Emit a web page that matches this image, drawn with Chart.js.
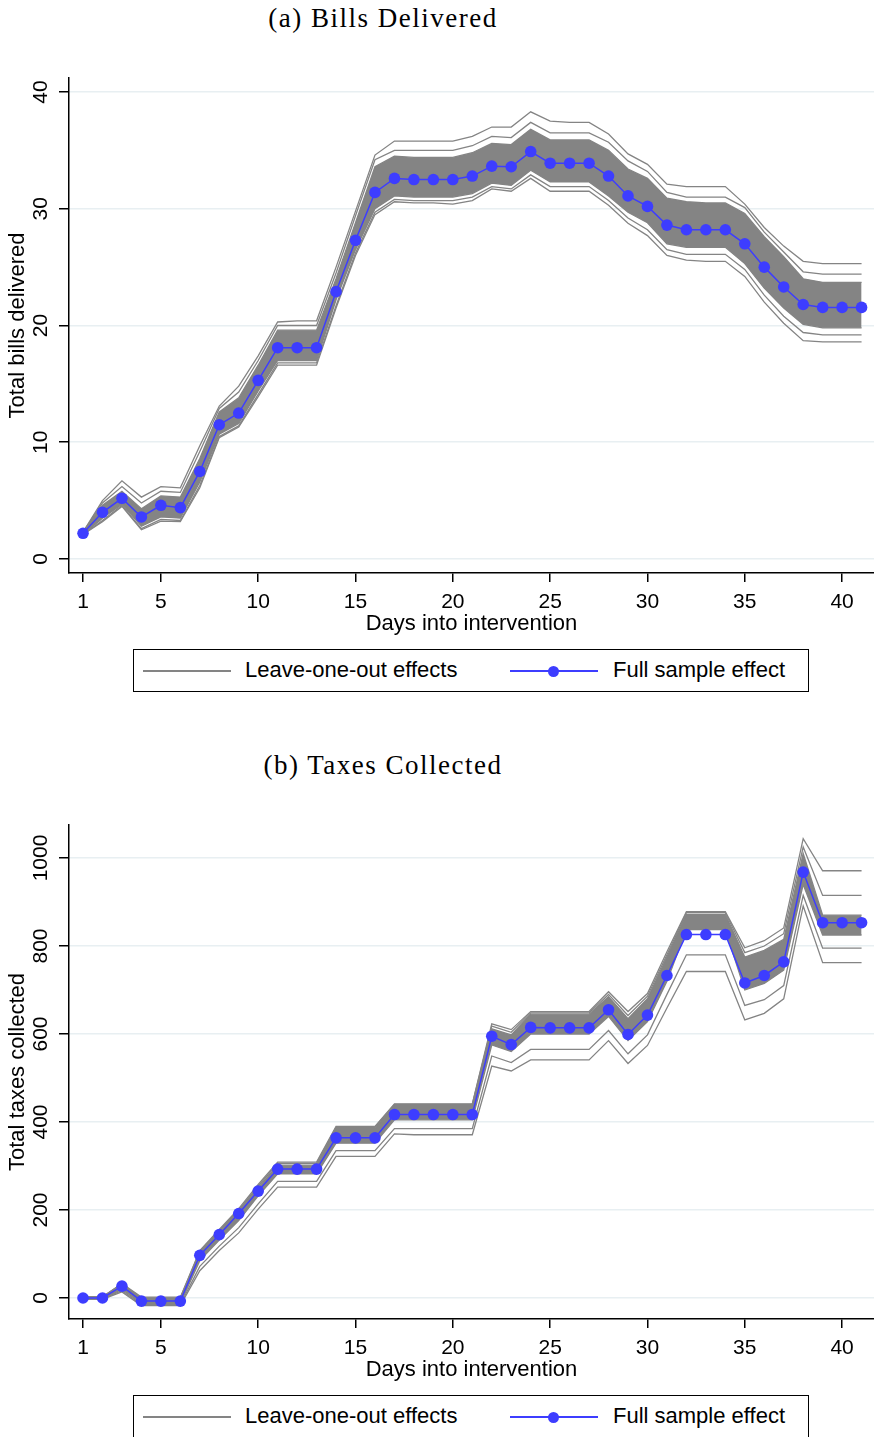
<!DOCTYPE html>
<html>
<head>
<meta charset="utf-8">
<script src="https://cdn.jsdelivr.net/npm/chart.js@4.4.1/dist/chart.umd.min.js"></script>
<style>
html,body{margin:0;padding:0;background:#fff;}
body{width:874px;height:1437px;position:relative;overflow:hidden;}
.ptitle{position:absolute;left:183px;width:400px;text-align:center;font-family:"Liberation Serif","DejaVu Serif",serif;font-size:27px;letter-spacing:1.5px;color:#000;line-height:30px;white-space:nowrap;}
canvas.cv{position:absolute;left:0;}
.legend{position:absolute;left:133px;width:676px;height:43px;box-sizing:border-box;border:1.5px solid #000;background:#fff;font-family:"Liberation Sans",Arial,sans-serif;font-size:22px;color:#000;}
.legend .ln{position:absolute;height:2px;top:20px;}
.legend .dot{position:absolute;width:11px;height:11px;border-radius:50%;top:15.5px;}
.legend .tx{position:absolute;top:0;line-height:40px;white-space:nowrap;}
</style>
</head>
<body>
<div class="ptitle" style="top:3px">(a) Bills Delivered</div>
<canvas class="cv" id="c1" width="881" height="650" style="top:0px"></canvas>
<div class="legend" style="top:649px">
  <div class="ln" style="left:9px;width:88px;background:#848484"></div>
  <div class="tx" style="left:111px">Leave-one-out effects</div>
  <div class="ln" style="left:376px;width:88px;background:#3d3dff"></div>
  <div class="dot" style="left:414px;background:#3d3dff"></div>
  <div class="tx" style="left:479px">Full sample effect</div>
</div>

<div class="ptitle" style="top:750px">(b) Taxes Collected</div>
<canvas class="cv" id="c2" width="881" height="650" style="top:745px"></canvas>
<div class="legend" style="top:1395px">
  <div class="ln" style="left:9px;width:88px;background:#848484"></div>
  <div class="tx" style="left:111px">Leave-one-out effects</div>
  <div class="ln" style="left:376px;width:88px;background:#3d3dff"></div>
  <div class="dot" style="left:414px;background:#3d3dff"></div>
  <div class="tx" style="left:479px">Full sample effect</div>
</div>

<script>
// ---------- data ----------
const days = [1,2,3,4,5,6,7,8,9,10,11,12,13,14,15,16,17,18,19,20,21,22,23,24,25,26,27,28,29,30,31,32,33,34,35,36,37,38,39,40,41];
const xTickValues = [1,5,10,15,20,25,30,35,40];
const xTickLabels = ["1","5","10","15","20","25","30","35","40"];

const billsYTicks = [0,10,20,30,40];
const billsYTickLabels = ["0","10","20","30","40"];
const taxesYTicks = [0,200,400,600,800,1000];
const taxesYTickLabels = ["0","200","400","600","800","1000"];

// (a) Bills delivered
const billsFull =       [2.2,4.0,5.2,3.6,4.6,4.4,7.5,11.5,12.5,15.3,18.1,18.1,18.1,22.9,27.3,31.4,32.6,32.5,32.5,32.5,32.8,33.65,33.6,34.9,33.9,33.9,33.9,32.8,31.1,30.2,28.6,28.2,28.2,28.2,27.0,25.0,23.3,21.8,21.55,21.55,21.55];
const billsLooHigh =    [2.3,5.0,6.7,5.3,6.2,6.1,9.7,13.1,14.8,17.4,20.3,20.4,20.4,25.0,29.8,34.6,35.8,35.8,35.8,35.8,36.2,37.0,37.0,38.3,37.5,37.4,37.4,36.4,34.7,33.8,32.1,31.9,31.9,31.9,30.4,28.4,26.8,25.5,25.3,25.3,25.3];
const billsLooMidHigh = [2.3,4.8,6.2,4.8,5.8,5.7,9.2,12.9,14.3,17.0,20.0,20.0,20.0,24.5,29.4,34.2,35.0,35.0,35.0,35.0,35.4,36.2,36.1,37.4,36.5,36.5,36.5,35.7,34.1,33.2,31.4,31.0,31.0,31.0,30.1,28.0,26.3,24.6,24.4,24.4,24.4];
const billsBandHigh =   [2.3,4.6,5.8,4.3,5.4,5.3,8.6,12.6,13.8,16.6,19.6,19.6,19.6,24.0,28.8,33.6,34.5,34.4,34.4,34.4,34.8,35.6,35.5,36.8,35.9,35.9,35.9,35.0,33.4,32.6,30.9,30.6,30.5,30.5,29.6,27.6,25.9,24.0,23.7,23.7,23.7];
const billsBandLow =    [2.1,3.5,4.7,2.8,3.6,3.5,6.6,10.7,11.6,14.4,17.0,17.0,17.0,22.2,26.5,30.0,31.1,31.0,31.0,31.0,31.3,32.2,32.0,33.3,32.3,32.3,32.3,31.1,29.7,28.8,27.0,26.7,26.7,26.7,25.3,23.2,21.5,20.1,19.8,19.8,19.8];
const billsLooMidLow =  [2.1,3.3,4.6,2.6,3.4,3.3,6.3,10.5,11.4,14.1,16.8,16.8,16.8,21.7,26.2,29.7,30.8,30.7,30.7,30.7,31.0,31.9,31.7,32.9,31.9,31.9,31.9,30.7,29.2,28.2,26.5,26.1,26.1,26.1,24.8,22.6,20.8,19.4,19.2,19.2,19.2];
const billsLooLow =     [2.1,3.2,4.5,2.5,3.25,3.2,6.1,10.4,11.3,13.9,16.6,16.6,16.6,21.5,26.0,29.5,30.6,30.5,30.5,30.4,30.7,31.7,31.5,32.6,31.5,31.5,31.5,30.3,28.75,27.7,26.0,25.6,25.5,25.5,24.2,22.0,20.2,18.7,18.6,18.6,18.6];

// (b) Taxes collected
const taxesFull =       [0,0,27,-7,-7,-7,97,144,192,243,293,293,293,364,364,364,417,417,417,417,417,595,576,615,614,614,614,655,599,643,733,826,826,826,716,733,764,968,853,853,853];
const taxesLooHigh =    [3,3,33,2,2,2,108,156,203,258,309,309,309,390,390,390,441,441,441,441,441,623,610,651,651,651,651,696,651,692,787,878,878,878,796,812,841,1044,971,971,971];
const taxesLooMidHigh = [2,2,32,0,0,0,106,154,200,254,306,306,306,388,388,388,440,440,440,440,440,618,604,648,648,648,648,690,642,686,780,876,876,876,785,800,828,1025,915,915,915];
const taxesBandHigh =   [2,2,32,-1,-1,-1,103,152,198,250,302,302,302,385,385,385,438,438,438,438,438,612,598,645,645,645,645,685,635,680,775,872,872,872,775,790,815,1010,870,870,870];
const taxesBandLow =    [-2,-2,20,-12,-12,-12,85,132,176,232,282,282,282,352,352,352,405,405,405,405,405,575,560,600,600,600,600,640,585,628,720,837,837,837,700,715,745,940,825,825,825];
const taxesLooMidLow =  [-2,-2,17,-15,-15,-15,72,118,160,214,265,265,265,335,335,335,385,385,385,385,385,550,535,565,565,565,565,608,555,598,690,780,780,780,665,678,710,915,795,795,795];
const taxesLooLow =     [-3,-3,14,-17,-17,-17,62,108,148,202,252,252,252,322,322,322,373,371,371,371,371,527,516,541,541,541,541,585,533,574,659,742,742,742,632,647,680,891,762,762,762];

// ---------- chart building ----------
const BLUE = '#3d3dff';
const GRAY = '#848484';
const SANS = '"Liberation Sans", Arial, sans-serif';

const pts = arr => days.map((d, i) => ({x: d, y: arr[i]}));

const axisText = {
  id: 'axisText',
  afterDraw(chart, args, o) {
    const ctx = chart.ctx, xs = chart.scales.x, ys = chart.scales.y, ca = chart.chartArea;
    ctx.save();
    ctx.fillStyle = '#000';
    ctx.textAlign = 'center';
    ctx.textBaseline = 'middle';
    ctx.font = '21px ' + SANS;
    o.yTicks.forEach((v, i) => {
      ctx.save();
      ctx.translate(41, ys.getPixelForValue(v));
      ctx.rotate(-Math.PI / 2);
      ctx.fillText(o.yLabels[i], 0, 0);
      ctx.restore();
    });
    o.xTicks.forEach((v, i) => {
      ctx.fillText(o.xLabels[i], xs.getPixelForValue(v), ca.bottom + 29);
    });
    ctx.font = '22px ' + SANS;
    ctx.fillText(o.xTitle, 471.5, ca.bottom + 51);
    ctx.save();
    ctx.translate(18, (ca.top + ca.bottom) / 2);
    ctx.rotate(-Math.PI / 2);
    ctx.fillText(o.yTitle, 0, 0);
    ctx.restore();
    ctx.restore();
  }
};

function grayLine(arr, extra) {
  return Object.assign({
    label: 'Leave-one-out effects', data: pts(arr), borderColor: GRAY, borderWidth: 1.3,
    pointRadius: 0, fill: false, tension: 0, order: 1
  }, extra || {});
}

function makeChart(id, s) {
  return new Chart(document.getElementById(id), {
    type: 'line',
    data: {
      datasets: [
        {label: 'Full sample effect', data: pts(s.full), borderColor: BLUE, backgroundColor: BLUE,
         borderWidth: 1.5, pointRadius: 5.8, pointHoverRadius: 5.8, pointBackgroundColor: BLUE,
         pointBorderWidth: 0, tension: 0, fill: false, order: 0},
        grayLine(s.looHigh),
        grayLine(s.midHigh),
        grayLine(s.bandHigh, {fill: '+1', backgroundColor: GRAY}),
        grayLine(s.bandLow),
        grayLine(s.midLow),
        grayLine(s.looLow)
      ]
    },
    options: {
      responsive: false,
      animation: false,
      devicePixelRatio: 1,
      layout: {padding: {top: s.padTop, left: 0, right: 0, bottom: 0}},
      plugins: {legend: {display: false}, tooltip: {enabled: false},
        axisText: {yTicks: s.yTicks, yLabels: s.yLabels, xTicks: xTickValues, xLabels: xTickLabels,
                   xTitle: 'Days into intervention', yTitle: s.yTitle}},
      scales: {
        x: {
          type: 'linear', min: 0.28, max: 41.7,
          afterBuildTicks: a => { a.ticks = xTickValues.map(v => ({value: v})); },
          afterFit: a => { a.height = s.axisH; },
          ticks: {display: false},
          grid: {drawOnChartArea: false, drawTicks: true, tickLength: 9, tickColor: '#000', tickWidth: 1.5, lineWidth: 1.5, color: '#000'},
          border: {display: true, color: '#000', width: 1.5}
        },
        y: {
          type: 'linear', min: s.yMin, max: s.yMax,
          afterBuildTicks: a => { a.ticks = s.yTicks.map(v => ({value: v})); },
          afterFit: a => { a.width = 69; },
          ticks: {display: false},
          grid: {drawOnChartArea: true, drawTicks: true, tickLength: 10, tickColor: '#000', tickWidth: 1.5, color: '#e8eff2', lineWidth: 1.5},
          border: {display: true, color: '#000', width: 1.5}
        }
      }
    },
    plugins: [axisText]
  });
}

makeChart('c1', {
  full: billsFull, looHigh: billsLooHigh, midHigh: billsLooMidHigh, bandHigh: billsBandHigh,
  bandLow: billsBandLow, midLow: billsLooMidLow, looLow: billsLooLow,
  yMin: -1.2, yMax: 41.2, yTicks: billsYTicks, yLabels: billsYTickLabels,
  yTitle: 'Total bills delivered', padTop: 78, axisH: 77
});
makeChart('c2', {
  full: taxesFull, looHigh: taxesLooHigh, midHigh: taxesLooMidHigh, bandHigh: taxesBandHigh,
  bandLow: taxesBandLow, midLow: taxesLooMidLow, looLow: taxesLooLow,
  yMin: -47.7, yMax: 1075, yTicks: taxesYTicks, yLabels: taxesYTickLabels,
  yTitle: 'Total taxes collected', padTop: 80, axisH: 76
});
</script>
</body>
</html>
